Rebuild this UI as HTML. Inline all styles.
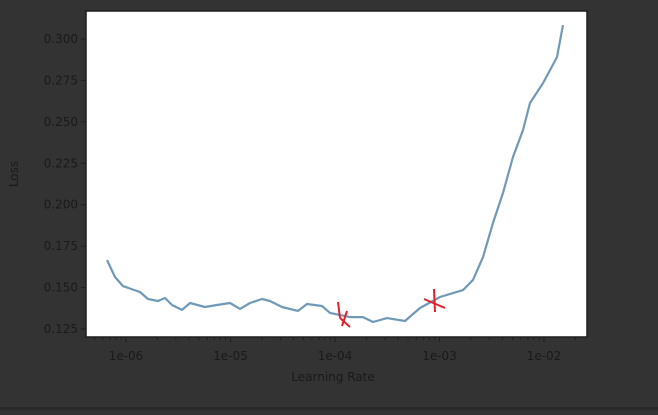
<!DOCTYPE html>
<html><head><meta charset="utf-8"><style>
html,body{margin:0;padding:0;background:#333333;}
body{width:658px;height:410px;overflow:hidden;}
svg text{font-family:"DejaVu Sans","Liberation Sans",sans-serif;fill:#1a1a1a;}
</style></head><body>
<svg id="chart" width="658" height="410" xmlns="http://www.w3.org/2000/svg">
<rect x="0" y="0" width="658" height="410" fill="#333333"/>
<rect x="0" y="407" width="658" height="3" fill="#2a2a2a"/>
<rect x="86" y="11" width="501" height="326" fill="#ffffff" stroke="#1e1e1e" stroke-width="1.5"/>
<g id="yticks"></g>
<g id="xticks"></g>
<path id="line" fill="none" stroke="#7099b8" stroke-width="2.2" stroke-linejoin="round"/>
<g stroke="#e0202a" stroke-width="2" fill="none">
<path d="M338,302 L340,318"/><path d="M347,311 L342,326"/><path d="M340,318 L350,327"/>
</g>
<g stroke="#e0202a" stroke-width="2" fill="none">
<path d="M434,289 L435,312"/><path d="M424,299 L445,308"/>
</g>
<text x="18" y="174" font-size="12" text-anchor="middle" transform="rotate(-90 18 174)">Loss</text>
<text x="333" y="381" font-size="12" text-anchor="middle">Learning Rate</text>
</svg>
<script>
const lossValues=[0.1666,0.1564,0.1509,0.1473,0.1431,0.1419,0.1437,0.1395,0.1365,0.1407,0.1383,0.1395,0.1407,0.1371,0.1407,0.1431,0.1419,0.1383,0.1359,0.1401,0.1389,0.1347,0.1322,0.1322,0.1292,0.1316,0.1298,0.1377,0.1443,0.1485,0.1546,0.1684,0.1890,0.2071,0.2288,0.2450,0.2614,0.2734,0.2891,0.3084];
const lrExponents=[-6.182,-6.105,-6.029,-5.866,-5.789,-5.694,-5.627,-5.560,-5.464,-5.388,-5.244,-5.129,-5.005,-4.909,-4.813,-4.699,-4.622,-4.507,-4.354,-4.268,-4.124,-4.048,-3.856,-3.732,-3.636,-3.502,-3.330,-3.187,-2.995,-2.775,-2.679,-2.584,-2.488,-2.392,-2.297,-2.201,-2.134,-2.010,-1.876,-1.818];
const yTickValues=[0.125,0.150,0.175,0.200,0.225,0.250,0.275,0.300];
const yTickLabels=["0.125","0.150","0.175","0.200","0.225","0.250","0.275","0.300"];
const xTickExponents=[-6,-5,-4,-3,-2];
const xTickLabels=["1e-06","1e-05","1e-04","1e-03","1e-02"];

const NS="http://www.w3.org/2000/svg";
function yScale(v){return 329-(v-0.125)/0.025*41.43;}
function xScale(e){return 126+(e+6)*104.5;}

const yg=document.getElementById('yticks');
yTickValues.forEach((v,i)=>{
  const y=yScale(v);
  const t=document.createElementNS(NS,'line');
  t.setAttribute('x1',81);t.setAttribute('x2',86);t.setAttribute('y1',y);t.setAttribute('y2',y);
  t.setAttribute('stroke','#1e1e1e');
  
  
  yg.appendChild(t);
  const l=document.createElementNS(NS,'text');
  l.setAttribute('x',78);l.setAttribute('y',y+4);l.setAttribute('font-size','12');l.setAttribute('text-anchor','end');
  l.textContent=yTickLabels[i];
  
  
  yg.appendChild(l);
});

const xg=document.getElementById('xticks');
for(let d=-7;d<=-2;d++){
  for(let m=2;m<=9;m++){
    const e=d+Math.log10(m);
    const x=xScale(e);
    if(x<87||x>586)continue;
    const t=document.createElementNS(NS,'line');
    t.setAttribute('x1',x);t.setAttribute('x2',x);t.setAttribute('y1',337);t.setAttribute('y2',340);
    t.setAttribute('stroke','#1e1e1e');
    
    
    xg.appendChild(t);
  }
}
xTickExponents.forEach((e,i)=>{
  const x=xScale(e);
  const t=document.createElementNS(NS,'line');
  t.setAttribute('x1',x);t.setAttribute('x2',x);t.setAttribute('y1',337);t.setAttribute('y2',342);
  t.setAttribute('stroke','#1e1e1e');
  
  
  xg.appendChild(t);
  const l=document.createElementNS(NS,'text');
  l.setAttribute('x',x);l.setAttribute('y',360);l.setAttribute('font-size','12');l.setAttribute('text-anchor','middle');
  l.textContent=xTickLabels[i];
  
  
  xg.appendChild(l);
});

let d='';
lossValues.forEach((v,i)=>{d+=(i?'L':'M')+xScale(lrExponents[i]).toFixed(1)+','+yScale(v).toFixed(1);});
document.getElementById('line').setAttribute('d',d);
</script>
</body></html>
